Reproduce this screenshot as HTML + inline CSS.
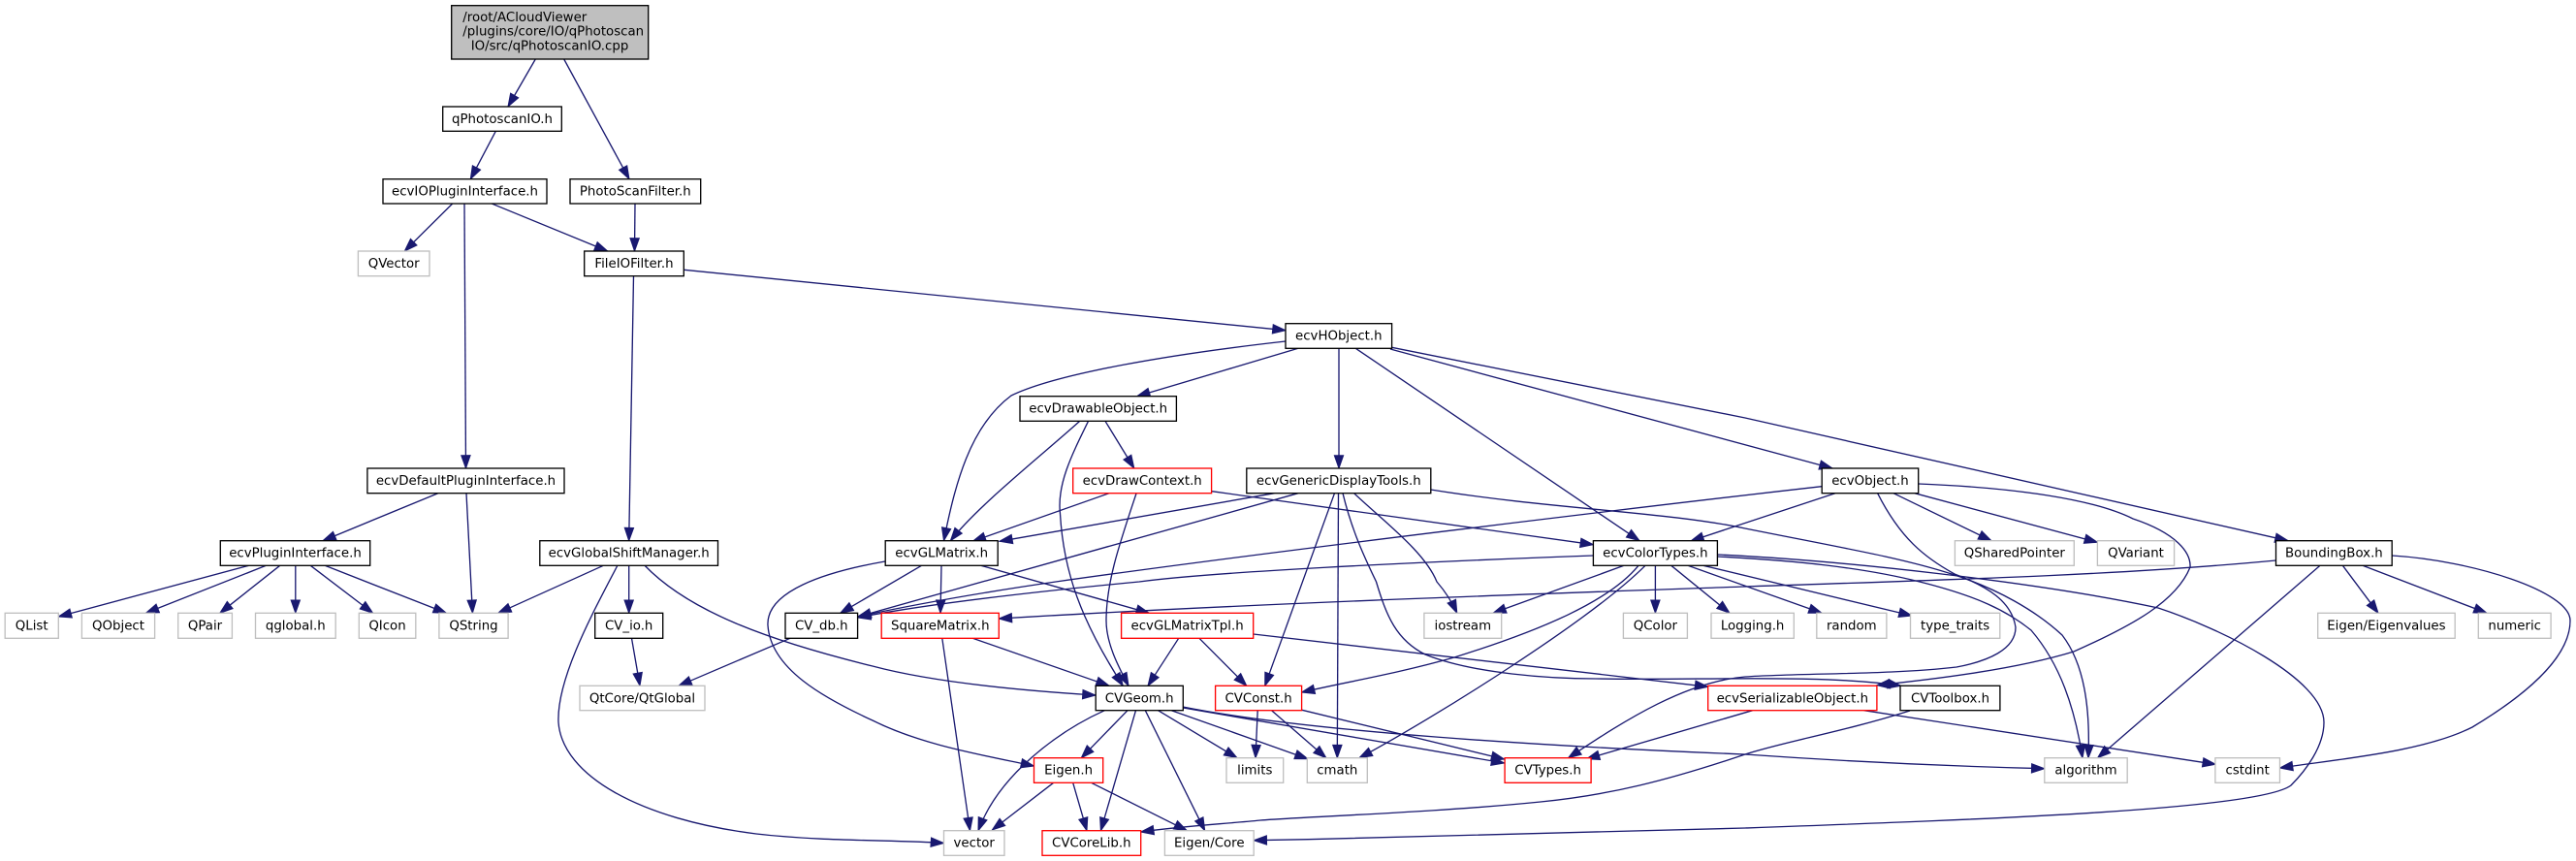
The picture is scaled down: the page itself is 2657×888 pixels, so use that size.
<!DOCTYPE html>
<html><head><meta charset="utf-8"><style>
html,body{margin:0;padding:0;background:#fff}
svg{display:block}
text{font-family:"DejaVu Sans",sans-serif;font-size:13.33px;fill:#000;text-anchor:middle}
.e path{fill:none;stroke:#191970;stroke-width:1.33;marker-end:url(#a)}
.n rect{fill:#fff;stroke:#000;stroke-width:1.33}
.g rect{fill:#fff;stroke:#bfbfbf;stroke-width:1.33}
.r rect{fill:#fff;stroke:#f00;stroke-width:1.33}
</style></head><body>
<svg width="2657" height="888" viewBox="0 0 2657 888" xmlns="http://www.w3.org/2000/svg">
<defs><marker id="a" markerUnits="userSpaceOnUse" markerWidth="16" markerHeight="12" refX="14" refY="6" orient="auto"><path d="M0.7,1.33 L14,6 L0.7,10.67 Z" fill="#191970" stroke="#191970" stroke-width="1"/></marker></defs>
<g class="e">
<path d="M552.3,61L524,110"/>
<path d="M581.7,61L649,184.7"/>
<path d="M511.3,135.3L485.3,184.7"/>
<path d="M655,210L654.5,259"/>
<path d="M466.7,210L417.3,259"/>
<path d="M507.3,210L626.7,259"/>
<path d="M479,210L480.5,483"/>
<path d="M705.7,278.3L1326,340.7"/>
<path d="M653.5,284.7L648.7,557.7"/>
<path d="M451.8,508.7L333,557.7"/>
<path d="M481,508.7L487.4,632.3"/>
<path d="M256.6,583.3L60.3,636"/>
<path d="M274.4,583.3L150.4,632.3"/>
<path d="M288.7,583.3L226.8,632.3"/>
<path d="M304.8,583.3L304.8,632.3"/>
<path d="M320.3,583.3L384.6,632.3"/>
<path d="M335.2,583.3L460.4,632.3"/>
<path d="M622.3,583.3L513.8,632.3"/>
<path d="M648.7,583.3L648.7,632.3"/>
<path d="M637,583C612,631 574,700 576,745C580,800 660,845 780,860C850,868 920,866 973.5,869.5"/>
<path d="M664.8,583C710,630 790,660 900,687C960,703 1050,712 1130,717"/>
<path d="M651.5,658.3L660,707.3"/>
<path d="M815,658.3L700,707.3"/>
<path d="M1326,352C1210,365 1090,385 1043,408C1000,440 985,500 973.5,557.7"/>
<path d="M1339,359.3L1172.7,408.7"/>
<path d="M1381,359.3L1381,483"/>
<path d="M1398.3,359.3L1691,557.7"/>
<path d="M1434,360L1890,483"/>
<path d="M1435.6,358.3L1800,431L2360,557.7"/>
<path d="M1114,434C1080,465 1010,520 980.4,557.7"/>
<path d="M1122.7,434C1105,470 1090,500 1093.5,530C1097,590 1115,640 1158.3,707.3"/>
<path d="M1140,434.3L1169.8,483"/>
<path d="M1144,508.7L1003.3,558.3"/>
<path d="M1172,509C1155,560 1141,600 1141,640C1141,665 1155,690 1164,707.3"/>
<path d="M1250,506.7L1643.4,561.7"/>
<path d="M1314.5,508.7L1030.9,558.3"/>
<path d="M1339,508.7L885,636"/>
<path d="M1376.5,508.7L1304.7,707.3"/>
<path d="M1380.5,508.7L1379.3,781.7"/>
<path d="M1396.6,508.7C1430,540 1470,570 1482,600Q1495,615 1502.8,632.3"/>
<path d="M1385,508.7C1395,550 1410,580 1419.5,600C1430,635 1440,660 1470,675C1520,695 1600,700 1646,700C1750,702 1880,695 1960.7,707.3"/>
<path d="M1475.8,505C1600,525 1720,528 1800,545C1900,565 1960,575 2013,592C2060,607 2100,630 2127,655C2150,685 2156,730 2154,781.7"/>
<path d="M1771.4,574C1850,578 1920,585 1980,600C2040,615 2070,630 2095,650C2125,685 2140,730 2148,781.7"/>
<path d="M1771.4,572C1900,578 2100,600 2226,627C2290,648 2397,700 2397,745C2397,770 2378,795 2363,810C2330,835 2050,845 1800,854C1600,860 1450,864 1293.2,866.7"/>
<path d="M1936.6,508.7C1960,555 1985,575 2016,592C2050,605 2075,620 2079,647C2079,670 2050,682 2018,688C1950,696 1860,694 1800,698C1740,703 1680,740 1617.6,781.7"/>
<path d="M1879,501.7C1700,522 1300,570 1089,600C1020,610 950,622 884.6,636"/>
<path d="M1892.9,508.7L1743.9,558"/>
<path d="M1953,508.7L2054,557.7"/>
<path d="M1974.9,508.7L2163.4,559.3"/>
<path d="M1978.7,499C2080,503 2160,515 2200,535C2245,550 2260,570 2259,585C2245,620 2200,645 2139,672C2080,690 2000,700 1935.9,706.7"/>
<path d="M2347.5,578C2200,592 2046,597 1800,605C1600,612 1300,622 1030.3,638"/>
<path d="M2393,583.3L2163.6,781.7"/>
<path d="M2416.4,583.3L2453,632.3"/>
<path d="M2437,583.3L2565,632.3"/>
<path d="M2467.2,573C2550,578 2651,610 2651,640C2651,680 2600,720 2550,750C2500,775 2420,782 2351.5,792"/>
<path d="M1643.4,573C1450,580 1250,590 1175,600C1070,610 960,622 884.6,637"/>
<path d="M1675,583.3L1540,632.3"/>
<path d="M1690,583.3C1660,620 1590,650 1500,678C1440,695 1390,703 1342.6,714"/>
<path d="M1697,583.3C1640,640 1480,740 1402,781.7"/>
<path d="M1707.4,583.3L1707.4,632.3"/>
<path d="M1723.8,583.3L1784,632.3"/>
<path d="M1741,583.3L1879,632.3"/>
<path d="M1757,583.3L1972,635"/>
<path d="M913,579C850,590 790,610 792,645C795,690 850,720 900,743C950,768 1010,778 1066.5,790"/>
<path d="M950.5,583.3L866.8,632.3"/>
<path d="M971,583.3L970,632.3"/>
<path d="M1012,583.3L1185.3,632.3"/>
<path d="M971.8,658.3L1000.5,856.7"/>
<path d="M1003.3,658.3L1144,707.3"/>
<path d="M1215.7,658.3L1184,707.3"/>
<path d="M1237,658.3L1285.8,707.3"/>
<path d="M1292.7,654L1761.7,708.3"/>
<path d="M1297.2,732.7L1295,781.7"/>
<path d="M1311.6,732.7L1367.9,781.7"/>
<path d="M1343,732.3L1551.6,783"/>
<path d="M1139.4,732.7C1090,755 1030,800 1009,856.7"/>
<path d="M1163,732.7L1115.3,781.7"/>
<path d="M1171.5,732.7L1135.4,856.7"/>
<path d="M1181.3,732.7L1242.7,856.7"/>
<path d="M1194.5,732.7L1276,781.7"/>
<path d="M1208.3,732.7L1349,782.7"/>
<path d="M1220.3,730L1551.6,787"/>
<path d="M1220,729C1350,755 1600,770 1800,778C1900,785 2000,790 2108.8,792.7"/>
<path d="M1086.6,807.3L1023.4,856"/>
<path d="M1106.7,807.3L1121,856.7"/>
<path d="M1125.6,807.3L1224.3,856.7"/>
<path d="M1807.7,732.7L1636.5,782.7"/>
<path d="M1922.5,732.7L2285.3,788.3"/>
<path d="M1970,733C1900,755 1840,765 1800,778C1720,805 1660,820 1589,827C1480,838 1350,842 1300,846C1260,850 1220,852 1176.7,858"/>
</g>
<g class="n">
<rect x="465.7" y="5.7" width="203" height="55.3" style="fill:#bfbfbf"/>
<text x="477.3" y="22" style="text-anchor:start">/root/ACloudViewer</text>
<text x="477.3" y="36.7" style="text-anchor:start">/plugins/core/IO/qPhotoscan</text>
<text x="567" y="51.3">IO/src/qPhotoscanIO.cpp</text>
<rect x="456.7" y="110" width="122.6" height="25.3"/><text x="518" y="127">qPhotoscanIO.h</text>
<rect x="395" y="184.7" width="169" height="25.3"/><text x="479.5" y="201.7">ecvIOPluginInterface.h</text>
<rect x="588" y="184.7" width="134.7" height="25.3"/><text x="655.3" y="201.7">PhotoScanFilter.h</text>
<rect x="602.7" y="259" width="102.6" height="25.7"/><text x="654" y="276">FileIOFilter.h</text>
<rect x="1326" y="333.7" width="109.6" height="25.6"/><text x="1380.8" y="350.7">ecvHObject.h</text>
<rect x="1052" y="408.7" width="161.4" height="25.6"/><text x="1132.7" y="425.7">ecvDrawableObject.h</text>
<rect x="378.9" y="483" width="203.1" height="25.7"/><text x="480.5" y="500">ecvDefaultPluginInterface.h</text>
<rect x="1285.8" y="483" width="190" height="25.7"/><text x="1380.8" y="500">ecvGenericDisplayTools.h</text>
<rect x="1879.2" y="483" width="99.5" height="25.7"/><text x="1929" y="500">ecvObject.h</text>
<rect x="227.3" y="557.7" width="154.4" height="25.6"/><text x="304.5" y="574.7">ecvPluginInterface.h</text>
<rect x="556.8" y="557.7" width="183.7" height="25.6"/><text x="648.7" y="574.7">ecvGlobalShiftManager.h</text>
<rect x="913.2" y="557.7" width="116" height="25.6"/><text x="971.2" y="574.7">ecvGLMatrix.h</text>
<rect x="1643.4" y="557.7" width="128" height="25.6"/><text x="1707.4" y="574.7">ecvColorTypes.h</text>
<rect x="2347.5" y="557.7" width="119.7" height="25.6"/><text x="2407.4" y="574.7">BoundingBox.h</text>
<rect x="613.7" y="632.3" width="70" height="26"/><text x="648.7" y="649.3">CV_io.h</text>
<rect x="810" y="632.3" width="74.6" height="26"/><text x="847.3" y="649.3">CV_db.h</text>
<rect x="1130.2" y="707.3" width="90.1" height="25.4"/><text x="1175.2" y="724.3">CVGeom.h</text>
<rect x="1960" y="707.3" width="102.9" height="25.4"/><text x="2011.5" y="724.3">CVToolbox.h</text>
</g>
<g class="r">
<rect x="1106.7" y="483" width="142.9" height="25.7"/><text x="1178.2" y="500">ecvDrawContext.h</text>
<rect x="909.2" y="632.3" width="121.1" height="26"/><text x="969.8" y="649.3">SquareMatrix.h</text>
<rect x="1156.6" y="632.3" width="136.1" height="26"/><text x="1224.6" y="649.3">ecvGLMatrixTpl.h</text>
<rect x="1253.6" y="707.3" width="89" height="25.4"/><text x="1298.1" y="724.3">CVConst.h</text>
<rect x="1761.7" y="707.3" width="174.2" height="25.4"/><text x="1848.8" y="724.3">ecvSerializableObject.h</text>
<rect x="1066.5" y="781.7" width="71.2" height="25.6"/><text x="1102.1" y="798.7">Eigen.h</text>
<rect x="1552.1" y="781.7" width="89" height="25.6"/><text x="1596.6" y="798.7">CVTypes.h</text>
<rect x="1075" y="856.7" width="101.7" height="25.6"/><text x="1125.8" y="873.7">CVCoreLib.h</text>
</g>
<g class="g">
<rect x="369.4" y="259" width="73.6" height="25.7"/><text x="406.2" y="276">QVector</text>
<rect x="2016.4" y="557.7" width="122.9" height="25.6"/><text x="2077.8" y="574.7">QSharedPointer</text>
<rect x="2163.4" y="557.7" width="79.2" height="25.6"/><text x="2203" y="574.7">QVariant</text>
<rect x="5.2" y="632.3" width="55.1" height="26"/><text x="32.7" y="649.3">QList</text>
<rect x="84.4" y="632.3" width="75.2" height="26"/><text x="122" y="649.3">QObject</text>
<rect x="183.7" y="632.3" width="55.7" height="26"/><text x="211.5" y="649.3">QPair</text>
<rect x="263.5" y="632.3" width="82.7" height="26"/><text x="304.8" y="649.3">qglobal.h</text>
<rect x="370.3" y="632.3" width="58.5" height="26"/><text x="399.5" y="649.3">QIcon</text>
<rect x="452.9" y="632.3" width="71.2" height="26"/><text x="488.5" y="649.3">QString</text>
<rect x="1468.9" y="632.3" width="79.8" height="26"/><text x="1508.8" y="649.3">iostream</text>
<rect x="1674.4" y="632.3" width="66" height="26"/><text x="1707.4" y="649.3">QColor</text>
<rect x="1765" y="632.3" width="85.3" height="26"/><text x="1807.6" y="649.3">Logging.h</text>
<rect x="1873.8" y="632.3" width="72.1" height="26"/><text x="1909.8" y="649.3">random</text>
<rect x="1970.5" y="632.3" width="92.3" height="26"/><text x="2016.6" y="649.3">type_traits</text>
<rect x="2390.7" y="632.3" width="141.5" height="26"/><text x="2461.4" y="649.3">Eigen/Eigenvalues</text>
<rect x="2556.3" y="632.3" width="74.8" height="26"/><text x="2593.7" y="649.3">numeric</text>
<rect x="598" y="707.3" width="129" height="25.4"/><text x="662.5" y="724.3">QtCore/QtGlobal</text>
<rect x="1265" y="781.7" width="58.7" height="25.6"/><text x="1294.3" y="798.7">limits</text>
<rect x="1348.3" y="781.7" width="62" height="25.6"/><text x="1379.3" y="798.7">cmath</text>
<rect x="2108.8" y="781.7" width="85.4" height="25.6"/><text x="2151.5" y="798.7">algorithm</text>
<rect x="2284.9" y="781.7" width="66.6" height="25.6"/><text x="2318.2" y="798.7">cstdint</text>
<rect x="973.5" y="856.7" width="62.5" height="25.6"/><text x="1004.7" y="873.7">vector</text>
<rect x="1201.4" y="856.7" width="91.8" height="25.6"/><text x="1247.3" y="873.7">Eigen/Core</text>
</g>
</svg>
</body></html>
